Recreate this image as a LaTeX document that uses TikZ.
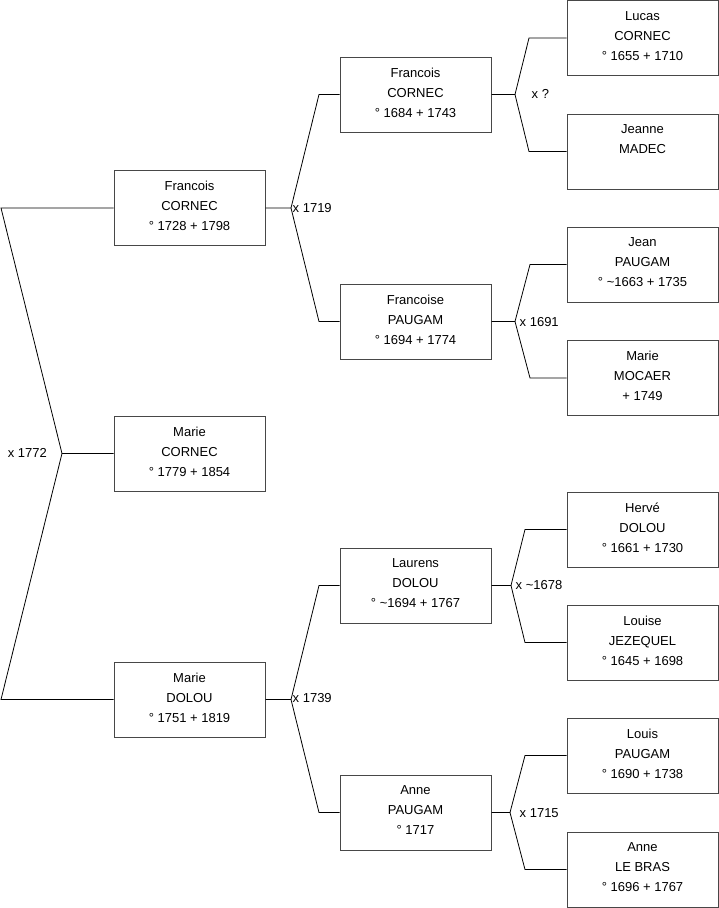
\documentclass[tikz,border=0pt]{standalone}
\usepackage{fontspec}
\setmainfont{Liberation Sans}
\newcommand\pers[3]{#1\\#2\\#3\rule[-4pt]{0pt}{4pt}}
\begin{document}
\begin{tikzpicture}[x=1pt,y=-1pt,
  person/.style={draw=black!72, line width=1pt, minimum width=151pt, minimum height=75pt,
    inner sep=0pt, align=center, font=\fontsize{13}{20}\selectfont},
  link/.style={draw=black, line width=0.8pt},
  lbl/.style={inner sep=0pt, font=\fontsize{13}{16}\selectfont}]
\useasboundingbox (0,0) rectangle (719,908);

% generation 0
\node[person] (fc0) at (189.5,208)   {\pers{Francois}{CORNEC}{° 1728 + 1798}};
\node[person] (mc)  at (189.5,453.5) {\pers{Marie}{CORNEC}{° 1779 + 1854}};
\node[person] (md)  at (189.5,699.5) {\pers{Marie}{DOLOU}{° 1751 + 1819}};
% generation 1
\node[person] (fc1) at (415.5,94.5)  {\pers{Francois}{CORNEC}{° 1684 + 1743}};
\node[person] (fp)  at (415.5,321.5) {\pers{Francoise}{PAUGAM}{° 1694 + 1774}};
\node[person] (ld)  at (415.5,585.5) {\pers{Laurens}{DOLOU}{° \textasciitilde 1694 + 1767}};
\node[person] (ap)  at (415.5,812.5) {\pers{Anne}{PAUGAM}{° 1717}};
% generation 2
\node[person] (lc)  at (642.5,38)    {\pers{Lucas}{CORNEC}{° 1655 + 1710}};
\node[person] (jm)  at (642.5,151.5) {\pers{Jeanne}{MADEC}{}};
\node[person] (jp)  at (642.5,264.5) {\pers{Jean}{PAUGAM}{° \textasciitilde 1663 + 1735}};
\node[person] (mm)  at (642.5,378)   {\pers{Marie}{MOCAER}{+ 1749}};
\node[person] (hd)  at (642.5,529.5) {\pers{Hervé}{DOLOU}{° 1661 + 1730}};
\node[person] (lj)  at (642.5,642.5) {\pers{Louise}{JEZEQUEL}{° 1645 + 1698}};
\node[person] (lp)  at (642.5,755.5) {\pers{Louis}{PAUGAM}{° 1690 + 1738}};
\node[person] (lb)  at (642.5,869.5) {\pers{Anne}{LE BRAS}{° 1696 + 1767}};

% bracket apexes
\coordinate (a0) at (62,453.5);
\coordinate (a1) at (291,208);
\coordinate (a2) at (291,699.5);
\coordinate (a3) at (515,94.5);
\coordinate (a4) at (515,321.5);
\coordinate (a5) at (511,585.5);
\coordinate (a6) at (510,812.5);

% connectors
\draw[link] (fc0.west) -- (1,208) -- (a0) -- (mc.west);
\draw[link] (a0) -- (1,699.5) -- (md.west);

\draw[link] (fc0.east) -- (a1) -- (319,94.5) -- (fc1.west);
\draw[link] (a1) -- (319,321.5) -- (fp.west);
\draw[link] (md.east) -- (a2) -- (319,585.5) -- (ld.west);
\draw[link] (a2) -- (319,812.5) -- (ap.west);

\draw[link] (fc1.east) -- (a3) -- (529,38) -- (lc.west);
\draw[link] (a3) -- (529,151.5) -- (jm.west);
\draw[link] (fp.east) -- (a4) -- (530,264.5) -- (jp.west);
\draw[link] (a4) -- (530,378) -- (mm.west);
\draw[link] (ld.east) -- (a5) -- (525,529.5) -- (hd.west);
\draw[link] (a5) -- (525,642.5) -- (lj.west);
\draw[link] (ap.east) -- (a6) -- (525,755.5) -- (lp.west);
\draw[link] (a6) -- (525,869.5) -- (lb.west);

% marriage labels
\node[lbl, anchor=east] (m0) at (47,453)   {x 1772};
\node[lbl, anchor=west] (m1) at (292.5,208) {x 1719};
\node[lbl, anchor=west] (m2) at (531.5,94)  {x ?};
\node[lbl, anchor=west] (m3) at (519.5,322) {x 1691};
\node[lbl, anchor=west] (m4) at (292.5,698.5) {x 1739};
\node[lbl, anchor=west] (m5) at (515.5,585.5) {x \textasciitilde 1678};
\node[lbl, anchor=west] (m6) at (519.5,813) {x 1715};
\end{tikzpicture}
\end{document}
